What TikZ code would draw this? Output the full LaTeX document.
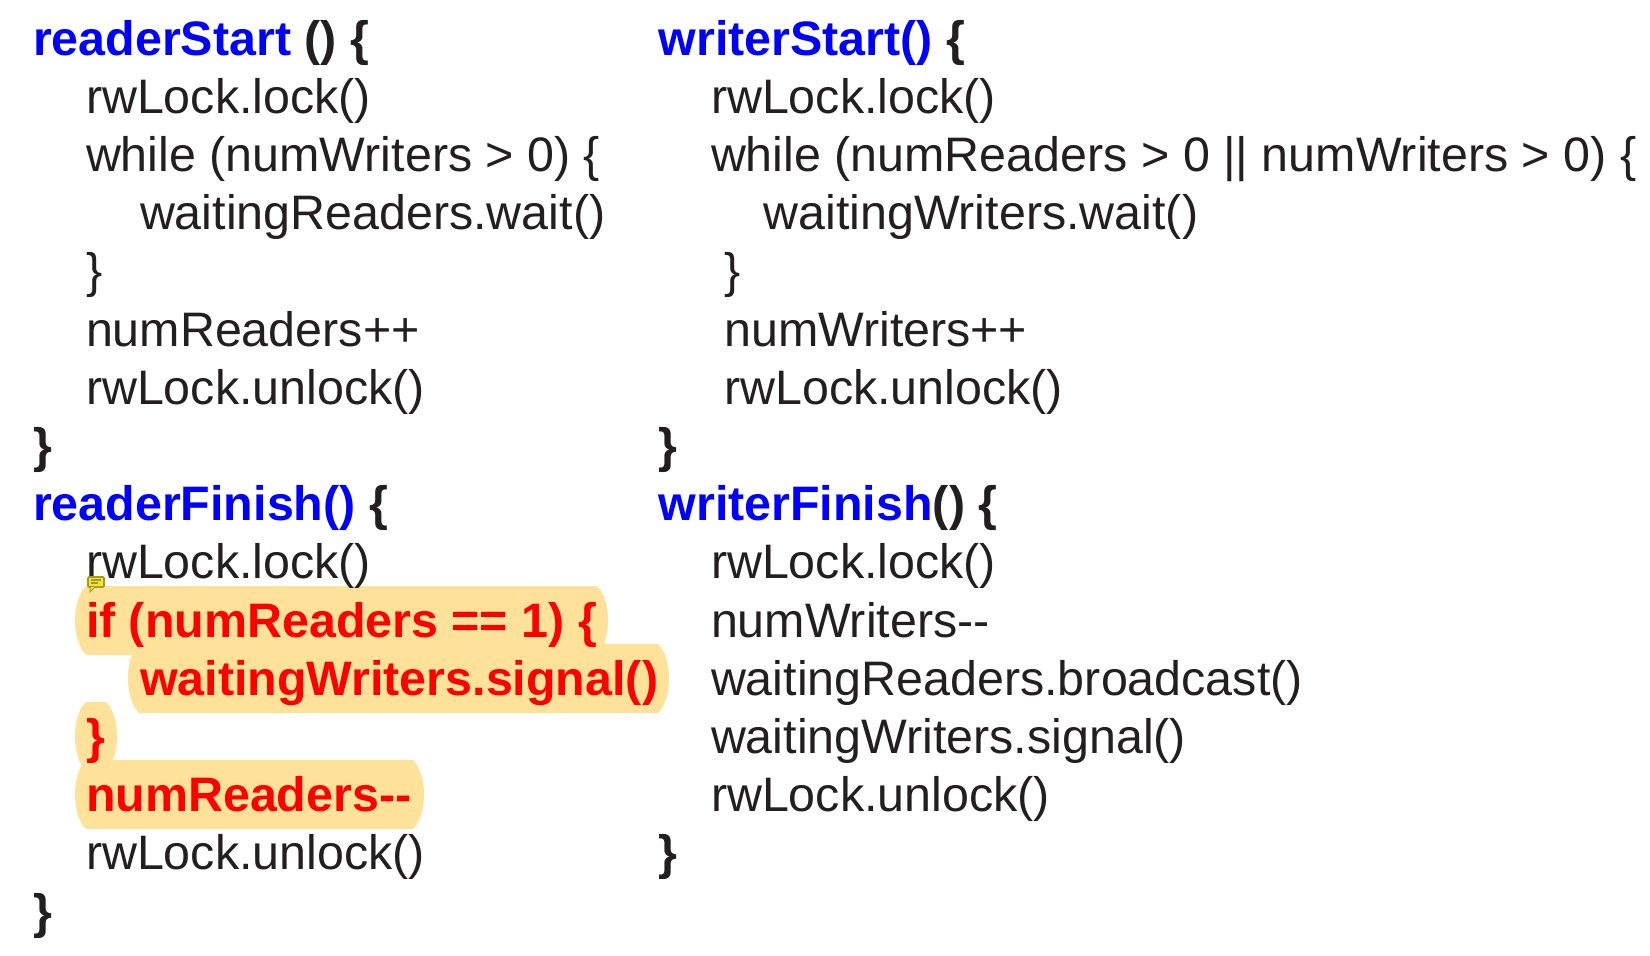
\documentclass[tikz,border=0pt]{standalone}
\usepackage{fontspec}
\setmainfont{Liberation Sans}
\usetikzlibrary{positioning}
\definecolor{inkdark}{HTML}{231F20}
\definecolor{hlfill}{HTML}{FFE29A}
\definecolor{notefill}{HTML}{F2E63C}
\definecolor{noteline}{HTML}{A89A20}
% highlight bar: left end, right end, top, bottom
\newcommand{\hlbar}[4]{
  \fill[hlfill] (#1+11,#3) -- (#2-11,#3) .. controls (#2+3.7,#3+14) and (#2+3.7,#4-14) .. (#2-11,#4)
    -- (#1+11,#4) .. controls (#1-3.7,#4-14) and (#1-3.7,#3+14) .. (#1+11,#3) -- cycle;
}
\begin{document}
\begin{tikzpicture}[
    x=0.5pt, y=-0.5pt,
    node distance=29.1pt,
    every node/.style={inner sep=0pt, outer sep=0pt, text=inkdark},
    codeline/.style={font=\fontsize{24.2}{28}\selectfont, anchor=base west},
    nextline/.style={below=of #1, codeline},
    head/.style={text=blue, font=\fontsize{24.2}{28}\selectfont\bfseries, anchor=base west},
    hot/.style={text=red, font=\fontsize{24.2}{28}\selectfont\bfseries},
    brace/.style={font=\fontsize{24.2}{28}\selectfont\bfseries}
]
\useasboundingbox (0,0) rectangle (1650,955);

% --- Highlights behind the changed lines ---
\hlbar{128}{669}{644}{713}
\hlbar{75}{608}{586}{655}
\hlbar{75}{117}{702}{771}
\hlbar{75}{424}{760}{829}

% --- Left column: reader ---
\node[head] (rstart) at (33,55) {readerStart \textcolor{inkdark}{() \{}};
\node[nextline=rstart.base west, xshift=26.5pt] (rlock) {rwLock.lock()};
\node[nextline=rlock.base west] (rwhile) {while (numWriters > 0) \{};
\node[nextline=rwhile.base west, xshift=27pt] (rwait) {waitingReaders.wait()};
\node[nextline=rwait.base west, xshift=-27pt] (rclose) {\}};
\node[nextline=rclose.base west] (rinc) {numReaders++};
\node[nextline=rinc.base west] (runlock) {rwLock.unlock()};
\node[nextline=runlock.base west, xshift=-26.5pt, brace] (rend) {\}};
\node[nextline=rend.base west, head] (rfinish) {readerFinish() \textcolor{inkdark}{\{}};
\node[nextline=rfinish.base west, xshift=26.5pt] (flock) {rwLock.lock()};
\node[nextline=flock.base west, hot] (fif) {if (numReaders == 1) \{};
\node[nextline=fif.base west, xshift=27pt, hot] (fsig) {waitingWriters.signal()};
\node[nextline=fsig.base west, xshift=-27pt, hot] (fclose) {\}};
\node[nextline=fclose.base west, hot] (fdec) {numReaders-{}-};
\node[nextline=fdec.base west] (funlock) {rwLock.unlock()};
\node[nextline=funlock.base west, xshift=-26.5pt, brace] (fend) {\}};

% --- Right column: writer ---
\node[head] (wstart) at (658.6,55) {writerStart() \textcolor{inkdark}{\{}};
\node[nextline=wstart.base west, xshift=26.2pt] (wlock) {rwLock.lock()};
\node[nextline=wlock.base west] (wwhile) {while (numReaders > 0 || numWriters > 0) \{};
\node[nextline=wwhile.base west, xshift=26.2pt] (wwait) {waitingWriters.wait()};
\node[nextline=wwait.base west, xshift=-19.6pt] (wclose) {\}};
\node[nextline=wclose.base west] (winc) {numWriters++};
\node[nextline=winc.base west] (wunlock) {rwLock.unlock()};
\node[nextline=wunlock.base west, xshift=-32.8pt, brace] (wend) {\}};
\node[nextline=wend.base west, head] (wfinish) {writerFinish\textcolor{inkdark}{() \{}};
\node[nextline=wfinish.base west, xshift=26.2pt] (xlock) {rwLock.lock()};
\node[nextline=xlock.base west] (xdec) {numWriters-{}-};
\node[nextline=xdec.base west] (xbroad) {waitingReaders.broadcast()};
\node[nextline=xbroad.base west] (xsig) {waitingWriters.signal()};
\node[nextline=xsig.base west] (xunlock) {rwLock.unlock()};
\node[nextline=xunlock.base west, xshift=-26.2pt, brace] (xend) {\}};

% --- Comment marker over the first highlight ---
\fill[notefill, draw=noteline, line width=0.8pt, rounded corners=0.5pt] (88,577) rectangle (104,587);
\fill[notefill, draw=noteline, line width=0.5pt] (90,587) -- (90,592) -- (95,587);
\draw[noteline, line width=0.6pt] (91,580) -- (101,580) (91,583) -- (98,583);

\end{tikzpicture}
\end{document}
